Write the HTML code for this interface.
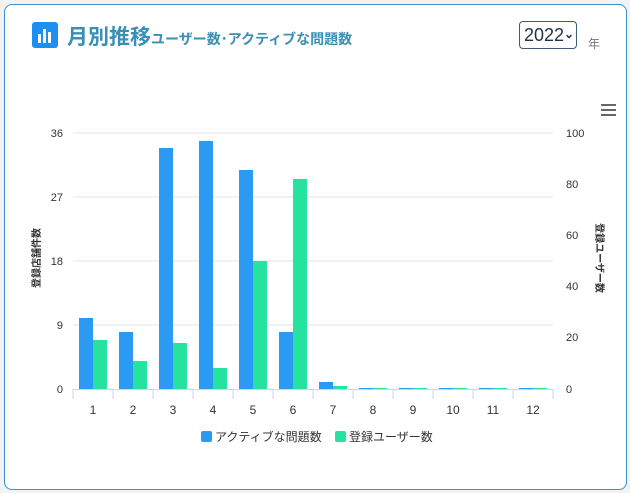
<!DOCTYPE html>
<html><head><meta charset="utf-8"><style>
body{margin:0;width:630px;height:493px;background:#f1f3f5;font-family:"Liberation Sans","Noto Sans CJK JP",sans-serif;overflow:hidden;position:relative}
.card{position:absolute;left:4px;top:4px;width:621px;height:484px;background:#fff;border:1px solid #3a8fd0;border-radius:8px}
.ic{position:absolute;left:32px;top:22px;width:26px;height:26px;background:#1f8ef1;border-radius:3px}
.t{position:absolute;left:67px;top:21px;color:#3a8fb5;font-weight:bold;font-size:21px;white-space:nowrap}
.t span{font-size:14px}
.sel{position:absolute;left:519px;top:21px;width:58px;height:28px;border:1px solid #3c5a7a;border-radius:4px;font-size:18px;color:#234;line-height:26px;padding-left:4px;box-sizing:border-box;white-space:nowrap;overflow:hidden}
.sel span{font-size:12px;font-weight:bold;position:relative;top:-3px}
.yr{position:absolute;left:588px;top:35px;font-size:12px;color:#777}
</style></head><body>
<div class="card"></div>
<div class="ic"><svg width="26" height="26"><rect x="6" y="12" width="3" height="9" fill="#fff"/><rect x="11" y="7" width="3" height="14" fill="#fff"/><rect x="16" y="10" width="3" height="11" fill="#fff"/></svg></div>
<div class="t">月別推移<span>ユーザー数･アクティブな問題数</span></div>
<div class="sel">2022<span>⌄</span></div>
<div class="yr">年</div>
<svg width="630" height="493" style="position:absolute;left:0;top:0" font-family="Liberation Sans, Noto Sans CJK JP, sans-serif">
<g stroke="#666" stroke-width="2"><line x1="601" y1="105" x2="616" y2="105"/><line x1="601" y1="110" x2="616" y2="110"/><line x1="601" y1="115" x2="616" y2="115"/></g>
<g stroke="#e6e6e6"><line x1="73" y1="133" x2="553" y2="133"/><line x1="73" y1="197" x2="553" y2="197"/><line x1="73" y1="261" x2="553" y2="261"/><line x1="73" y1="325" x2="553" y2="325"/></g>
<line x1="73" y1="389.5" x2="553" y2="389.5" stroke="#ccd6eb"/>
<g stroke="#ccd6eb"><line x1="73" y1="389" x2="73" y2="399"/><line x1="113" y1="389" x2="113" y2="399"/><line x1="153" y1="389" x2="153" y2="399"/><line x1="193" y1="389" x2="193" y2="399"/><line x1="233" y1="389" x2="233" y2="399"/><line x1="273" y1="389" x2="273" y2="399"/><line x1="313" y1="389" x2="313" y2="399"/><line x1="353" y1="389" x2="353" y2="399"/><line x1="393" y1="389" x2="393" y2="399"/><line x1="433" y1="389" x2="433" y2="399"/><line x1="473" y1="389" x2="473" y2="399"/><line x1="513" y1="389" x2="513" y2="399"/><line x1="553" y1="389" x2="553" y2="399"/></g>
<g font-size="11" fill="#333" text-anchor="end"><text x="63" y="137">36</text><text x="63" y="201">27</text><text x="63" y="265">18</text><text x="63" y="329">9</text><text x="63" y="393">0</text></g>
<g font-size="11" fill="#333" text-anchor="start"><text x="566" y="137">100</text><text x="566" y="188">80</text><text x="566" y="239">60</text><text x="566" y="290">40</text><text x="566" y="341">20</text><text x="566" y="393">0</text></g>
<text transform="translate(40,258) rotate(-90)" font-size="10" font-weight="bold" fill="#333" text-anchor="middle">登録店舗件数</text>
<text transform="translate(596,258) rotate(90)" font-size="10" font-weight="bold" fill="#333" text-anchor="middle">登録ユーザー数</text>
<g fill="#2b9af3">
<rect x="79" y="318" width="14" height="71"/><rect x="119" y="332" width="14" height="57"/><rect x="159" y="148" width="14" height="241"/><rect x="199" y="141" width="14" height="248"/><rect x="239" y="170" width="14" height="219"/><rect x="279" y="332" width="14" height="57"/><rect x="319" y="382" width="14" height="7"/><rect x="359" y="388" width="14" height="1"/><rect x="399" y="388" width="14" height="1"/><rect x="439" y="388" width="14" height="1"/><rect x="479" y="388" width="14" height="1"/><rect x="519" y="388" width="14" height="1"/></g>
<g fill="#26e3a0">
<rect x="93" y="340" width="14" height="49"/><rect x="133" y="361" width="14" height="28"/><rect x="173" y="343" width="14" height="46"/><rect x="213" y="368" width="14" height="21"/><rect x="253" y="261" width="14" height="128"/><rect x="293" y="179" width="14" height="210"/><rect x="333" y="386" width="14" height="3"/><rect x="373" y="388" width="14" height="1"/><rect x="413" y="388" width="14" height="1"/><rect x="453" y="388" width="14" height="1"/><rect x="493" y="388" width="14" height="1"/><rect x="533" y="388" width="14" height="1"/></g>
<g font-size="12" fill="#333" text-anchor="middle"><text x="93" y="414">1</text><text x="133" y="414">2</text><text x="173" y="414">3</text><text x="213" y="414">4</text><text x="253" y="414">5</text><text x="293" y="414">6</text><text x="333" y="414">7</text><text x="373" y="414">8</text><text x="413" y="414">9</text><text x="453" y="414">10</text><text x="493" y="414">11</text><text x="533" y="414">12</text></g>
<rect x="201" y="431" width="11" height="11" rx="2" fill="#2b9af3"/><text x="215" y="441" font-size="12" fill="#333">アクティブな問題数</text>
<rect x="335" y="431" width="11" height="11" rx="2" fill="#26e3a0"/><text x="349" y="441" font-size="12" fill="#333">登録ユーザー数</text>
</svg>
</body></html>
